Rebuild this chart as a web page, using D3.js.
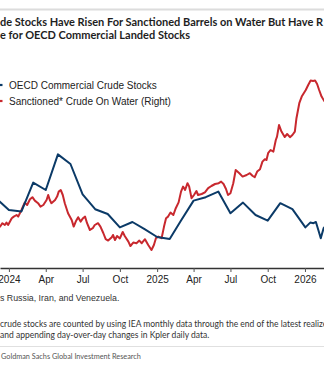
<!DOCTYPE html>
<html>
<head>
<meta charset="utf-8">
<script src="https://cdn.jsdelivr.net/npm/d3@7"></script>
<style>
    html, body { margin: 0; padding: 0; background: #fff; overflow: hidden; }
    svg { display: block; }
</style>
</head>
<body>
<div id="chart"></div>
<script>
// --- Data ---
const oecdDates = [
    "2023-12-01", "2024-01-01", "2024-02-01", "2024-03-01", "2024-04-01", "2024-05-01", "2024-06-01",
    "2024-07-01", "2024-08-01", "2024-09-01", "2024-10-01", "2024-11-01", "2024-12-01",
    "2025-01-01", "2025-02-01", "2025-03-01", "2025-04-01", "2025-05-01", "2025-06-01",
    "2025-07-01", "2025-08-01", "2025-09-01", "2025-10-01", "2025-11-01", "2025-12-01",
    "2026-01-02", "2026-01-14", "2026-01-22", "2026-01-28", "2026-02-03", "2026-02-09", "2026-02-16", "2026-02-23"
];
const oecdValues = [
    1284.7, 1279.0, 1278.3, 1292.7, 1289.0, 1306.8, 1302.0,
    1286.8, 1279.4, 1277.0, 1270.3, 1273.0, 1269.4,
    1265.5, 1264.5, 1273.8, 1283.7, 1285.4, 1288.2,
    1277.4, 1282.7, 1276.5, 1273.7, 1282.4, 1279.4,
    1270.3, 1272.7, 1272.4, 1273.0, 1269.0, 1264.9, 1269.9, 1271.5
];

const sanctionedDates = [
    "2023-12-03", "2023-12-10", "2023-12-16", "2023-12-22", "2023-12-26", "2023-12-30",
    "2024-01-08", "2024-01-13", "2024-01-20", "2024-01-24", "2024-02-01", "2024-02-09", "2024-02-15", "2024-02-22", "2024-02-28",
    "2024-03-05", "2024-03-13", "2024-03-19", "2024-03-26", "2024-04-03", "2024-04-07", "2024-04-11", "2024-04-15", "2024-04-24", "2024-04-29",
    "2024-05-03", "2024-05-08", "2024-05-13", "2024-05-18", "2024-05-26", "2024-06-04", "2024-06-09", "2024-06-14", "2024-06-20", "2024-06-26",
    "2024-07-02", "2024-07-07", "2024-07-12", "2024-07-19", "2024-07-26", "2024-07-31", "2024-08-08", "2024-08-14", "2024-08-21", "2024-08-27",
    "2024-09-02", "2024-09-11", "2024-09-14", "2024-09-19", "2024-09-24", "2024-10-01", "2024-10-08", "2024-10-13", "2024-10-22", "2024-10-27",
    "2024-11-03", "2024-11-11", "2024-11-18", "2024-11-24", "2024-12-02", "2024-12-10", "2024-12-18", "2024-12-24", "2024-12-29",
    "2025-01-04", "2025-01-12", "2025-01-18", "2025-01-23", "2025-01-28", "2025-02-03", "2025-02-10", "2025-02-16", "2025-02-23",
    "2025-03-01", "2025-03-06", "2025-03-11", "2025-03-17", "2025-03-21", "2025-03-27", "2025-04-02", "2025-04-08", "2025-04-12", "2025-04-21", "2025-04-29",
    "2025-05-07", "2025-05-15", "2025-05-24", "2025-06-02", "2025-06-08", "2025-06-14", "2025-06-20", "2025-06-25", "2025-07-01", "2025-07-08", "2025-07-14", "2025-07-23", "2025-07-31",
    "2025-08-10", "2025-08-18", "2025-08-25", "2025-08-30", "2025-09-05", "2025-09-12", "2025-09-18", "2025-09-24", "2025-09-28",
    "2025-10-02", "2025-10-08", "2025-10-15", "2025-10-21", "2025-10-24", "2025-10-29", "2025-11-04", "2025-11-12", "2025-11-18", "2025-11-25",
    "2025-12-01", "2025-12-07", "2025-12-11", "2025-12-18", "2025-12-24", "2025-12-29",
    "2026-01-03", "2026-01-09", "2026-01-15", "2026-01-21", "2026-01-26", "2026-01-31", "2026-02-05", "2026-02-11", "2026-02-17", "2026-02-24"
];
const sanctionedValues = [
    69.5, 70.7, 72.4, 71.5, 72.7, 71.5,
    74.9, 75.7, 76.5, 75.7, 79.0, 82.7, 81.5, 84.4, 85.4,
    83.7, 82.4, 80.7, 81.5, 84.0, 86.5, 84.0, 82.4, 84.0, 85.7,
    88.2, 89.0, 86.5, 82.4, 77.4, 74.0, 70.7, 73.2, 75.4, 73.2,
    74.9, 75.7, 72.4, 69.0, 69.9, 71.5, 72.4, 70.7, 67.5, 64.4,
    63.7, 65.4, 66.5, 64.0, 66.0, 64.8, 68.0, 66.0, 63.2, 61.0,
    62.7, 62.4, 63.7, 62.4, 64.4, 61.5, 59.0, 61.5, 64.9,
    65.7, 64.9, 70.7, 74.9, 75.7, 77.7, 76.5, 79.9, 82.8,
    88.2, 90.7, 89.0, 92.4, 90.8, 84.9, 86.5, 88.5, 86.5, 87.0, 87.8,
    89.9, 91.0, 92.0, 92.4, 93.2, 92.0, 89.5, 86.5, 87.4, 92.4, 99.0, 97.4, 95.7,
    96.5, 97.4, 96.0, 95.4, 98.2, 99.4, 103.2, 104.4, 104.0,
    107.4, 109.0, 108.2, 114.0, 115.7, 121.5, 118.2, 115.5, 117.0, 115.4,
    116.5, 118.2, 124.9, 132.4, 135.7, 137.4,
    139.0, 141.5, 143.7, 143.5, 143.7, 142.0, 139.0, 135.7, 133.7, 132.0
];

const tickDates = ["2024-01-01", "2024-04-01", "2024-07-01", "2024-10-01", "2025-01-01",
                   "2025-04-01", "2025-07-01", "2025-10-01", "2026-01-01"];
const tickLabels = ["2024", "Apr", "Jul", "Oct", "2025", "Apr", "Jul", "Oct", "2026"];

const legendLabels = ["OECD Commercial Crude Stocks", "Sanctioned* Crude On Water (Right)"];
const seriesColors = ["#0b3a67", "#c8282e"];

const titleLines = [
    "de Stocks Have Risen For Sanctioned Barrels on Water But Have R",
    "e for OECD Commercial Landed Stocks"
];
const noteLine = "s Russia, Iran, and Venezuela.";
const methodLines = [
    "crude stocks are counted by using IEA monthly data through the end of the latest realize",
    "and appending day-over-day changes in Kpler daily data."
];
const sourceLine = "Goldman Sachs Global Investment Research";

// --- Setup ---
const width = 324, height = 365;
const parse = d3.timeParse("%Y-%m-%d");
const sansArial = "'Liberation Sans', Arial, sans-serif";
const sansLato = "Lato, 'Open Sans', sans-serif";

const svg = d3.select("#chart").append("svg")
    .attr("width", width)
    .attr("height", height);

const plot = { top: 68, bottom: 268 };

const x = d3.scaleTime()
    .domain([parse("2023-12-10"), parse("2026-02-17")])
    .range([0, width]);

const yLeft = d3.scaleLinear().domain([1250, 1350]).range([plot.bottom, plot.top]);
const yRight = d3.scaleLinear().domain([50, 150]).range([plot.bottom, plot.top]);

const oecd = oecdDates.map((d, i) => ({ date: parse(d), value: oecdValues[i] }));
const sanctioned = sanctionedDates.map((d, i) => ({ date: parse(d), value: sanctionedValues[i] }));

// --- Top rule + title ---
svg.append("line")
    .attr("x1", 0).attr("x2", width)
    .attr("y1", 9.5).attr("y2", 9.5)
    .attr("stroke", "#dcdcdc")
    .attr("stroke-width", 2);

svg.selectAll(".title-line")
    .data(titleLines)
    .join("text")
    .attr("class", "title-line")
    .attr("x", 0)
    .attr("y", (d, i) => 25.5 + i * 13)
    .attr("font-family", sansLato)
    .attr("font-weight", "bold")
    .attr("font-size", "11px")
    .attr("fill", "#1e1e1e")
    .text(d => d);

// --- Lines ---
const lineLeft = d3.line().x(d => x(d.date)).y(d => yLeft(d.value));
const lineRight = d3.line().x(d => x(d.date)).y(d => yRight(d.value));

svg.append("path")
    .datum(sanctioned)
    .attr("fill", "none")
    .attr("stroke", seriesColors[1])
    .attr("stroke-width", 2)
    .attr("stroke-linejoin", "round")
    .attr("d", lineRight);

svg.append("path")
    .datum(oecd)
    .attr("fill", "none")
    .attr("stroke", seriesColors[0])
    .attr("stroke-width", 2)
    .attr("stroke-linejoin", "round")
    .attr("d", lineLeft);

// --- X axis ---
const xAxis = svg.append("g")
    .attr("transform", `translate(0, ${plot.bottom})`)
    .call(d3.axisBottom(x)
        .tickValues(tickDates.map(parse))
        .tickFormat((d, i) => tickLabels[i])
        .tickSize(4)
        .tickSizeOuter(0)
        .tickPadding(4));

xAxis.select(".domain").attr("stroke", "#333").attr("stroke-width", 1.3);
xAxis.selectAll(".tick line").attr("stroke", "#555");
xAxis.selectAll("text")
    .attr("font-family", sansArial)
    .attr("font-size", "10px")
    .attr("fill", "#222");

// --- Legend ---
const legend = svg.append("g");
legendLabels.forEach((label, i) => {
    const row = legend.append("g").attr("transform", `translate(0, ${85 + i * 16})`);
    row.append("line")
        .attr("x1", -10).attr("x2", 2.5)
        .attr("stroke", seriesColors[i])
        .attr("stroke-width", 2.2);
    row.append("text")
        .attr("x", 9)
        .attr("dy", "0.35em")
        .attr("font-family", sansArial)
        .attr("font-size", "10px")
        .attr("fill", "#222")
        .text(label);
});

// --- Footnotes ---
svg.append("text")
    .attr("x", 0).attr("y", 300.5)
    .attr("font-family", sansArial)
    .attr("font-size", "8.8px")
    .attr("fill", "#333")
    .text(noteLine);

svg.selectAll(".method-line")
    .data(methodLines)
    .join("text")
    .attr("class", "method-line")
    .attr("x", 0)
    .attr("y", (d, i) => 327 + i * 11)
    .attr("font-family", sansLato)
    .attr("font-size", "8.5px")
    .attr("fill", "#333")
    .text(d => d);

svg.append("line")
    .attr("x1", 0).attr("x2", width)
    .attr("y1", 346.5).attr("y2", 346.5)
    .attr("stroke", "#e0e0e0")
    .attr("stroke-width", 1);

svg.append("text")
    .attr("x", 1).attr("y", 359)
    .attr("font-family", sansLato)
    .attr("font-size", "7.3px")
    .attr("fill", "#555")
    .text(sourceLine);
</script>
</body>
</html>
